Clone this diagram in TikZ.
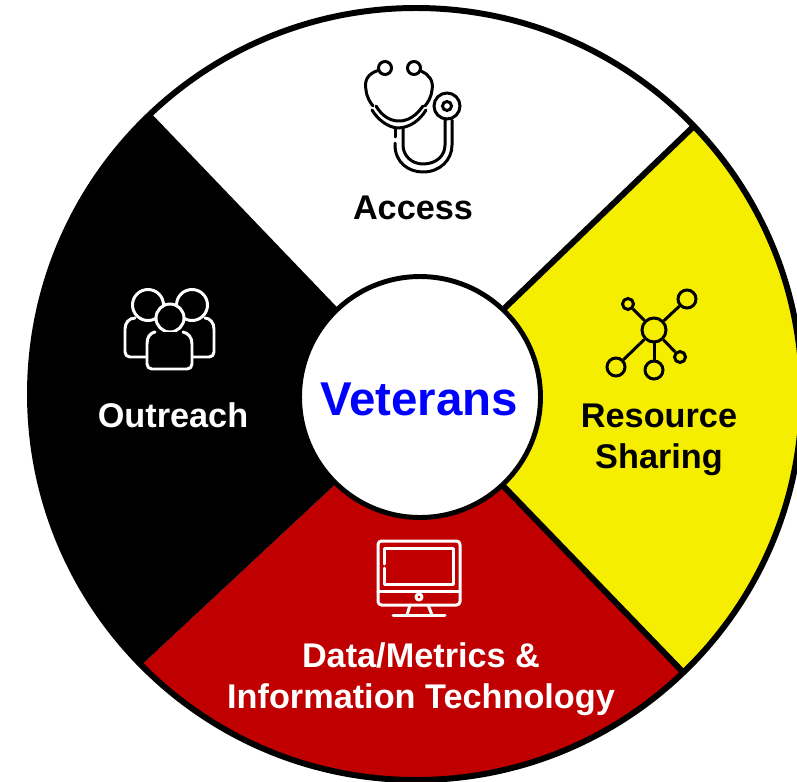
\documentclass[tikz,border=0pt]{standalone}
\usepackage{fontspec}
\setmainfont{Liberation Sans}
\definecolor{wheelred}{RGB}{192,0,0}
\definecolor{wheelyellow}{RGB}{246,238,0}
\tikzset{
	label/.style={font=\fontsize{19.5}{23.3}\bfseries\selectfont,inner sep=0pt,align=center},
	hub/.style={draw,circle,line width=1.7pt,inner sep=0pt,fill=wheelyellow},
	earpiece/.style={draw,circle,line width=1.7pt,inner sep=0pt},
	icon/.style={line width=1.7pt,line cap=round,line join=round},
}
\begin{document}
\begin{tikzpicture}[x=0.02cm,y=-0.02cm]
	\useasboundingbox (0,0) rectangle (797,781);

	\coordinate (c) at (416,394);
	\coordinate (tl) at (100,60);
	\coordinate (tr) at (745,77);
	\coordinate (br) at (735,726);
	\coordinate (bl) at (90,713);
	\coordinate (tli) at (354,325);
	\coordinate (tri) at (485,327);
	\coordinate (bri) at (483,465);
	\coordinate (bli) at (357,464);
	\coordinate (mid) at (420,397);

	% wedges
	\begin{scope}
		\clip (0,0) rectangle (797,781);
		\begin{scope}
			\clip (c) circle[radius=386];
			\fill[white] (tl) -- (tli) -- (mid) -- (tri) -- (tr) -- (tr |- 0,0) -- (tl |- 0,0) -- cycle;
			\fill[wheelyellow] (tr) -- (tri) -- (mid) -- (bri) -- (br) -- (810,726) -- (810,77) -- cycle;
			\fill[wheelred] (bl) -- (bli) -- (mid) -- (bri) -- (br) -- (735,790) -- (90,790) -- cycle;
			\fill[black] (tl) -- (tli) -- (mid) -- (bli) -- (bl) -- (0,713) -- (0,60) -- cycle;
			\draw[line width=3.4pt] (tr) -- (tri);
			\draw[line width=3.4pt] (br) -- (bri);
		\end{scope}
		\draw[line width=3.4pt] (c) circle[radius=386];
	\end{scope}
	\node[draw,circle,fill=white,line width=2.8pt,minimum size=4.82cm,inner sep=0pt] at (mid) (veterans) {};
	\node[font=\fontsize{27}{30}\bfseries\selectfont,text=blue,inner sep=0pt] at (419,399) (veteranstext) {Veterans};

	% labels
	\node[label] at (413,208) (access) {Access};
	\node[label,text=white] at (173,415) (outreach) {Outreach};
	\node[label] at (659,440) (resource) {Resource\\Sharing};
	\node[label,text=white] at (421,679) (data) {Data/Metrics \&\\Information Technology};

	% stethoscope
	\node[earpiece,minimum size=0.26cm] at (385,68) (earl) {};
	\node[earpiece,minimum size=0.26cm] at (414,68) (earr) {};
	\node[earpiece,minimum size=0.52cm] at (447,106) (disc) {};
	\node[earpiece,minimum size=0.18cm] at (447,106) (discin) {};
	\draw[icon] (earl) .. controls (368,74) and (364,80) .. (366,90) .. controls (367,98) and (370,102) .. (373,106);
	\draw[icon] (earr) .. controls (428,74) and (434,80) .. (432,90) .. controls (431,98) and (428,102) .. (425,106);
	\draw[icon] (372,110) .. controls (378,120) and (388,127) .. (397,128) .. controls (410,128) and (420,120) .. (426,110);
	\draw[icon] (376,106) .. controls (382,116) and (390,121) .. (399,121) .. controls (408,121) and (416,116) .. (423,106);
	\draw[icon] (395,128) -- (395,137);
	\draw[icon] (395,143) -- (395,145) .. controls (395,162) and (408,172) .. (423,172) .. controls (440,172) and (452,160) .. (452,145) -- (452,120);
	\draw[icon] (403,128) -- (403,145) .. controls (403,156) and (412,164) .. (423,164) .. controls (436,164) and (445,156) .. (445,145) -- (445,120);

	% people
	\draw[icon,white] (148,305) circle[radius=15.5];
	\draw[icon,white] (192,305) circle[radius=15.5];
	\draw[icon,white] (135,318) .. controls (129,318) and (125,323) .. (125,329) -- (125,352) .. controls (125,355) and (127,357) .. (130,357) -- (146,357);
	\draw[icon,white] (205,318) .. controls (210,318) and (214,323) .. (214,329) -- (214,352) .. controls (214,355) and (212,357) .. (209,357) -- (193,357);
	\draw[icon,white,fill=black] (170,318) circle[radius=14];
	\draw[icon,white,fill=black] (155,332) .. controls (150,333) and (147,337) .. (147,344) -- (147,364) .. controls (147,367) and (149,369) .. (152,369) -- (187,369) .. controls (190,369) and (192,367) .. (192,364) -- (192,344) .. controls (192,337) and (188,333) .. (183,332);

	% network
	\node[hub,minimum size=0.48cm] at (654,330) (hubc) {};
	\node[hub,minimum size=0.36cm] at (687,299) (hubtr) {};
	\node[hub,minimum size=0.22cm] at (628,304) (hubtl) {};
	\node[hub,minimum size=0.36cm] at (616,367) (hubbl) {};
	\node[hub,minimum size=0.36cm] at (654,370) (hubb) {};
	\node[hub,minimum size=0.22cm] at (680,357) (hubbr) {};
	\draw[line width=1.7pt] (hubc) -- (hubtr);
	\draw[line width=1.7pt] (hubc) -- (hubtl);
	\draw[line width=1.7pt] (hubc) -- (hubbl);
	\draw[line width=1.7pt] (hubc) -- (hubb);
	\draw[line width=1.7pt] (hubc) -- (hubbr);

	% monitor
	\draw[icon,white,rounded corners=2pt] (378,541) rectangle (460,605);
	\draw[icon,white] (384,564) -- (384,548) -- (453,548) -- (453,584) -- (384,584) -- (384,568);
	\draw[icon,white] (378,591) -- (460,591);
	\draw[icon,white] (419,597) circle[radius=3];
	\draw[icon,white] (410,605) -- (407,615);
	\draw[icon,white] (428,605) -- (432,615);
	\draw[icon,white] (393,615) -- (445,615);
\end{tikzpicture}
\end{document}
